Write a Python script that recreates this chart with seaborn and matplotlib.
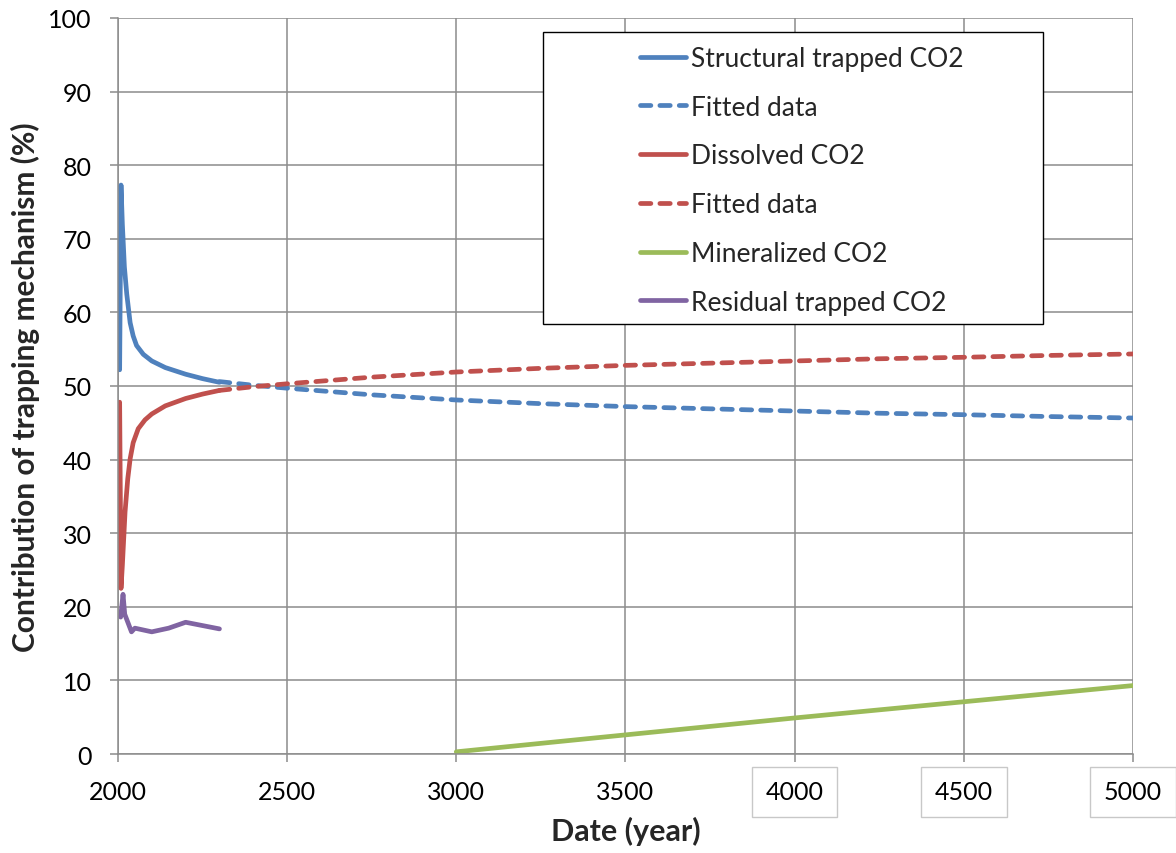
import matplotlib
matplotlib.use("Agg")
import matplotlib.pyplot as plt
from matplotlib.patches import Rectangle
import pandas as pd
import seaborn as sns

# Contribution of each trapping mechanism (%) versus simulation date (year)
struct_years = [2005, 2009, 2013, 2019, 2026, 2036, 2045, 2055, 2075, 2100, 2140, 2200, 2250, 2300]
struct_vals = [52.2, 77.3, 72.0, 66.2, 62.5, 58.6, 56.8, 55.5, 54.3, 53.4, 52.5, 51.6, 51.0, 50.5]

dissolved_years = [2005, 2009, 2013, 2021, 2029, 2036, 2045, 2060, 2080, 2100, 2140, 2200, 2250, 2300]
dissolved_vals = [47.8, 22.5, 25.6, 32.9, 37.4, 40.1, 42.3, 44.2, 45.4, 46.2, 47.3, 48.3, 48.9, 49.4]

fit_years = [2300, 2400, 2500, 2750, 3000, 3250, 3500, 3750, 4000, 4250, 4500, 4750, 5000]
struct_fit_vals = [50.6, 50.1, 49.7, 48.8, 48.1, 47.6, 47.2, 46.9, 46.6, 46.3, 46.1, 45.85, 45.65]
dissolved_fit_vals = [49.4, 49.9, 50.3, 51.2, 51.9, 52.4, 52.8, 53.1, 53.4, 53.7, 53.9, 54.15, 54.35]

mineral_years = [3000, 4000, 5000]
mineral_vals = [0.3, 4.9, 9.3]

residual_years = [2008, 2015, 2020, 2030, 2040, 2050, 2100, 2150, 2200, 2300]
residual_vals = [18.6, 21.7, 19.0, 17.8, 16.6, 17.1, 16.6, 17.1, 17.9, 17.0]

x_ticks = [2000, 2500, 3000, 3500, 4000, 4500, 5000]
boxed_x_labels = ["4000", "4500", "5000"]
y_ticks = [0, 10, 20, 30, 40, 50, 60, 70, 80, 90, 100]

BLUE, RED, GREEN, PURPLE = "#4F81BD", "#C0504D", "#9BBB59", "#8064A2"
GRID = "#8C8C8C"

sns.set_theme(style="white")
plt.rcParams["font.family"] = ["Lato", "DejaVu Sans"]

series = [
    ("Structural trapped CO2", struct_years, struct_vals, BLUE, False),
    ("Fitted data", fit_years, struct_fit_vals, BLUE, True),
    ("Dissolved CO2", dissolved_years, dissolved_vals, RED, False),
    ("Fitted data", fit_years, dissolved_fit_vals, RED, True),
    ("Mineralized CO2", mineral_years, mineral_vals, GREEN, False),
    ("Residual trapped CO2", residual_years, residual_vals, PURPLE, False),
]

fig = plt.figure(figsize=(11.76, 8.54), dpi=100)
ax = fig.add_axes([0.1003, 0.1159, 0.8631, 0.8619])

handles = []
for name, xs, ys, color, dashed in series:
    df = pd.DataFrame({"year": xs, "value": ys})
    sns.lineplot(data=df, x="year", y="value", ax=ax, color=color,
                 estimator=None, sort=False, lw=3.4, legend=False)
    line = ax.get_lines()[-1]
    line.set_solid_capstyle("round")
    line.set_solid_joinstyle("round")
    if dashed:
        line.set_linestyle((0, (2.2, 1.9)))
        line.set_dash_capstyle("round")
    line.set_label(name)
    handles.append(line)

ax.set_xlim(2000, 5000)
ax.set_ylim(0, 100)
ax.set_xticks(x_ticks, labels=[str(t) for t in x_ticks])
ax.set_yticks(y_ticks, labels=[str(t) for t in y_ticks])
ax.grid(True, color=GRID, lw=1.1)
ax.set_axisbelow(True)
for side in ("top", "right"):
    ax.spines[side].set_visible(False)
for side in ("left", "bottom"):
    ax.spines[side].set_color(GRID)
    ax.spines[side].set_linewidth(1.1)

ax.tick_params(axis="both", direction="out", length=6, width=1.1, color=GRID,
               labelsize=18, labelcolor="black")
ax.tick_params(axis="y", pad=13, left=True)
ax.tick_params(axis="x", pad=13, bottom=True)

for lbl in ax.get_xticklabels():
    if lbl.get_text() in boxed_x_labels:
        lbl.set_bbox(dict(boxstyle="square,pad=0.55", fc="white", ec="#C8C8C8", lw=1))

ax.set_xlabel("Date (year)", fontsize=22, fontweight="bold", labelpad=9)
ax.set_ylabel("Contribution of trapping mechanism (%)", fontsize=21.5,
              fontweight="bold", labelpad=6)

# Legend frame drawn separately so entries sit inside a wide box
ax.add_patch(Rectangle((0.4187, 0.584), 0.4926, 0.397, transform=ax.transAxes,
                       fc="white", ec="black", lw=1.0, zorder=5))
leg = ax.legend(handles=handles, loc="upper left", bbox_to_anchor=(0.514, 0.962),
                frameon=False, fontsize=19, handlelength=1.75, handletextpad=0.2,
                labelspacing=0.9, borderpad=0, borderaxespad=0)
leg.set_zorder(6)

fig.savefig("out.png", dpi=100)
